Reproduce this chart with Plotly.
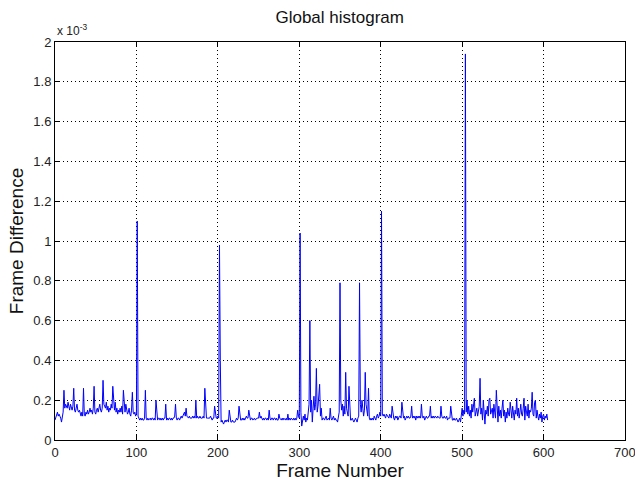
import plotly.graph_objects as go

# Frame-to-frame global histogram difference, in units of 1e-5 (frames 0..605)
diff_1e5 = [
    10, 11, 13, 14, 12, 13, 12, 11, 9, 12,
    14, 25, 16, 18, 17, 16, 19, 17, 15, 18,
    16, 15, 17, 26, 15, 14, 16, 18, 15, 14,
    15, 13, 12, 14, 12, 26, 13, 12, 14, 13,
    15, 13, 14, 16, 14, 15, 13, 16, 27, 14,
    13, 15, 16, 14, 17, 18, 15, 14, 16, 30,
    18, 17, 16, 19, 15, 17, 14, 16, 15, 18,
    16, 27, 17, 15, 19, 14, 16, 13, 15, 14,
    16, 14, 17, 13, 25, 16, 14, 18, 15, 13,
    14, 16, 13, 12, 15, 24, 14, 13, 14, 12,
    13, 110, 12, 11, 10, 11, 10, 11, 10, 10,
    11, 25, 11, 10, 11, 10, 11, 11, 10, 11,
    11, 10, 11, 10, 20, 11, 10, 11, 11, 10,
    11, 10, 11, 10, 11, 11, 18, 10, 11, 10,
    11, 11, 10, 11, 10, 11, 11, 12, 18, 11,
    10, 11, 11, 10, 11, 12, 11, 12, 13, 14,
    12, 16, 12, 11, 11, 12, 11, 11, 11, 12,
    11, 12, 11, 20, 11, 12, 11, 11, 12, 11,
    11, 11, 12, 11, 26, 13, 11, 11, 11, 11,
    11, 12, 11, 10, 11, 11, 17, 12, 11, 11,
    12, 11, 98, 40, 9, 10, 9, 8, 9, 10,
    9, 10, 10, 9, 15, 10, 9, 9, 10, 9,
    9, 9, 10, 11, 10, 11, 17, 11, 10, 10,
    11, 10, 11, 10, 11, 12, 11, 11, 15, 11,
    10, 11, 11, 10, 11, 11, 10, 11, 11, 11,
    11, 14, 11, 12, 11, 10, 11, 10, 11, 11,
    10, 11, 10, 15, 11, 10, 11, 11, 10, 11,
    11, 10, 11, 10, 10, 13, 11, 10, 10, 11,
    10, 11, 10, 10, 11, 10, 13, 10, 11, 10,
    11, 10, 10, 11, 10, 11, 10, 11, 15, 12,
    11, 104, 14, 7, 9, 12, 10, 13, 9, 11,
    10, 13, 18, 60, 14, 20, 9, 16, 22, 15,
    18, 36, 14, 17, 25, 28, 12, 16, 10, 11,
    11, 10, 11, 12, 10, 11, 11, 10, 16, 11,
    10, 11, 12, 10, 11, 10, 10, 9, 11, 14,
    79, 20, 15, 18, 12, 17, 13, 34, 16, 14,
    12, 27, 12, 10, 10, 11, 10, 9, 10, 11,
    10, 9, 11, 12, 79, 18, 14, 20, 16, 12,
    15, 34, 18, 13, 12, 26, 11, 10, 11, 10,
    11, 10, 12, 11, 10, 12, 13, 11, 12, 14,
    12, 115, 13, 12, 13, 12, 11, 13, 12, 12,
    11, 13, 12, 11, 17, 12, 11, 10, 12, 11,
    12, 10, 11, 12, 12, 11, 19, 12, 11, 12,
    10, 11, 12, 11, 12, 11, 11, 12, 17, 11,
    12, 11, 12, 10, 12, 11, 12, 11, 12, 11,
    18, 12, 11, 12, 10, 11, 12, 11, 11, 12,
    12, 17, 11, 12, 11, 12, 11, 12, 11, 11,
    12, 11, 11, 11, 17, 12, 11, 11, 12, 11,
    11, 12, 10, 11, 11, 11, 17, 12, 10, 10,
    11, 10, 10, 11, 10, 9, 10, 11, 9, 13,
    16, 12, 15, 13, 194, 14, 20, 13, 17, 12,
    15, 11, 18, 14, 17, 21, 12, 14, 16, 12,
    14, 17, 31, 13, 16, 10, 20, 11, 8, 15,
    13, 17, 12, 20, 21, 13, 15, 16, 11, 18,
    14, 11, 25, 13, 9, 17, 12, 15, 11, 16,
    20, 12, 15, 9, 14, 11, 16, 13, 12, 19,
    14, 11, 17, 12, 10, 15, 13, 21, 12, 16,
    11, 14, 18, 13, 12, 16, 21, 10, 17, 14,
    12, 18, 11, 15, 14, 16, 24, 13, 12, 19,
    20, 11, 15, 12, 10, 13, 11, 14, 9, 12,
    13, 10, 12, 11, 13, 10,
]
frames = list(range(len(diff_1e5)))
# plotted in units of 1e-3, as shown by the axis multiplier
diff_1e3 = [v / 100 for v in diff_1e5]

x_ticks = [0, 100, 200, 300, 400, 500, 600, 700]
y_ticks = [0, 0.2, 0.4, 0.6, 0.8, 1, 1.2, 1.4, 1.6, 1.8, 2]
y_tick_text = ["0", "0.2", "0.4", "0.6", "0.8", "1", "1.2", "1.4", "1.6", "1.8", "2"]

FONT = "Liberation Sans, Arial, sans-serif"
TICK_FONT = dict(family=FONT, size=13, color="#222")

fig = go.Figure()
fig.add_trace(go.Scatter(
    x=frames, y=diff_1e3, mode="lines",
    line=dict(color="#0000ff", width=1),
    showlegend=False,
))

axis_common = dict(
    showline=True, linecolor="black", linewidth=1, mirror="ticks",
    ticks="inside", ticklen=5, tickcolor="black",
    showgrid=True, gridcolor="black", gridwidth=1, griddash="1px,3px",
    zeroline=False, tickfont=TICK_FONT,
)

fig.update_layout(
    width=635, height=488,
    margin=dict(l=55, r=10, t=42, b=48),
    paper_bgcolor="white", plot_bgcolor="white",
    title=dict(text="Global histogram", x=0.535, xanchor="center", y=0.965,
               yanchor="middle", font=dict(family=FONT, size=17, color="#111")),
    xaxis=dict(range=[0, 700], tickvals=x_ticks[:-1], automargin=False,
               title=dict(text="Frame Number", standoff=4,
                          font=dict(family=FONT, size=19, color="#111")),
               **axis_common),
    yaxis=dict(range=[0, 2], tickvals=y_ticks, ticktext=y_tick_text, automargin=False,
               title=dict(text="Frame Difference", standoff=4,
                          font=dict(family=FONT, size=19, color="#111")),
               **axis_common),
    annotations=[
        dict(text="x 10<sup>-3</sup>", xref="paper", yref="paper", x=0, y=1,
             xanchor="left", yanchor="bottom", yshift=2, showarrow=False,
             font=dict(family=FONT, size=12, color="#222")),
        # last x tick label sits on the right border and would be dropped by the axis
        dict(text=str(x_ticks[-1]), xref="x", yref="paper", x=x_ticks[-1], y=0,
             xanchor="center", yanchor="top", yshift=-3, showarrow=False,
             font=TICK_FONT),
    ],
)

fig.write_html("out.html")
